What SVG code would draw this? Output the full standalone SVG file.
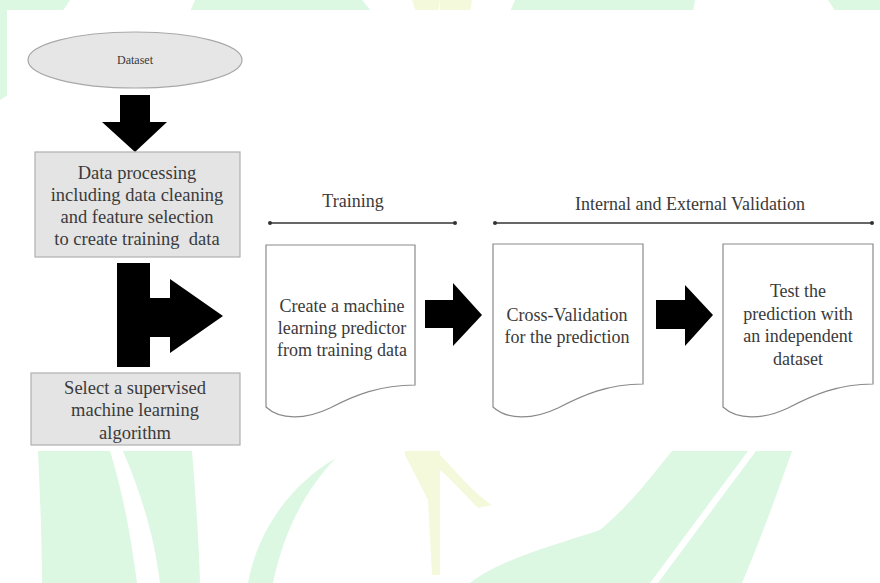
<svg xmlns="http://www.w3.org/2000/svg" width="880" height="583" viewBox="0 0 880 583">
<style>
.wm{fill:#dcf7e2}
.wy{fill:#f5f9dc}
.box{fill:#e4e4e4;stroke:#b0b0b0;stroke-width:1.2}
.doc{fill:#ffffff;stroke:#8a8a8a;stroke-width:1.2}
.t{font-family:"Liberation Serif","Times New Roman",serif;fill:#3a3a3a;text-anchor:middle}
.arrow{fill:#000}
.span{stroke:#333;stroke-width:1.3;fill:none}
.dot{fill:#333}
</style>
<rect width="880" height="583" fill="#ffffff"/>
<g id="watermark">
<polygon class="wm" points="0,0 70,0 62,12 0,12"/>
<polygon class="wm" points="0,0 8,0 8,95 0,100"/>
<polygon class="wm" points="195,0 362,0 372,12 190,12"/>
<polygon class="wy" points="412,0 440,0 438,12 416,12"/>
<polygon class="wy" points="440,0 472,0 470,12 440,12"/>
<polygon class="wm" points="515,0 695,0 693,12 510,12"/>
<polygon class="wm" points="828,0 880,0 880,12 836,12"/>
<path class="wm" d="M38,451 H110 C125,500 132,545 137,583 H42 C42,540 40,495 38,451 Z"/>
<path class="wm" d="M123,451 H192 C196,500 199,545 200,583 H160 C155,540 142,495 123,451 Z"/>
<path class="wm" d="M248,583 C258,530 290,485 336,458 C300,495 282,540 273,583 Z"/>
<path class="wy" d="M405,451 H440 V575 L432,575 L428,500 L405,455 Z"/>
<path class="wy" d="M440,455 C455,470 470,490 492,505 L478,508 C465,495 452,480 440,470 Z"/>
<path class="wm" d="M672,451 H792 C775,500 758,545 742,583 H470 C500,560 545,548 600,530 C630,505 650,478 672,451 Z"/>
<path fill="#ffffff" d="M748,451 H756 L658,583 H650 Z"/>
</g>
<rect x="7" y="10" width="873" height="441" fill="#ffffff"/>

<g id="connectors">
<path class="arrow" d="M120,95 H150 V122 H167 L135,152 L102,122 H120 Z"/>
<path class="arrow" d="M117,263 H150 V298 H170 V279 L223,316 L170,353 V337 H150 V367 H117 Z"/>
<path class="arrow" d="M425,300 H453 V283 L482,315 L453,346 V328 H425 Z"/>
<path class="arrow" d="M656,300 H685 V285 L713,315 L685,346 V329 H656 Z"/>
<line class="span" x1="270" y1="223" x2="455" y2="223"/>
<circle class="dot" cx="270" cy="223" r="2"/>
<circle class="dot" cx="455" cy="223" r="2"/>
<line class="span" x1="495" y1="223" x2="872" y2="223"/>
<circle class="dot" cx="495" cy="223" r="2"/>
<circle class="dot" cx="872" cy="223" r="2"/>
</g>

<g id="dataset">
<ellipse cx="135" cy="60" rx="107" ry="28" fill="#e6e6e6" stroke="#a8a8a8" stroke-width="1.2"/>
<text class="t" x="135" y="64" font-size="12">Dataset</text>
</g>

<g id="data-processing">
<rect class="box" x="35" y="152" width="205" height="105"/>
<text class="t" x="137" y="179" font-size="18.5">Data processing</text>
<text class="t" x="137" y="201" font-size="18.5">including data cleaning</text>
<text class="t" x="137" y="223" font-size="18.5">and feature selection</text>
<text class="t" x="137" y="245" font-size="18.5" xml:space="preserve">to create training  data</text>
</g>

<g id="select-algorithm">
<rect class="box" x="31" y="373" width="209" height="72"/>
<text class="t" x="135" y="394" font-size="18.5">Select a supervised</text>
<text class="t" x="135" y="416" font-size="18.5">machine learning</text>
<text class="t" x="135" y="439" font-size="18.5">algorithm</text>
</g>

<g id="training-label">
<text class="t" x="353" y="207" font-size="18">Training</text>
</g>

<g id="validation-label">
<text class="t" x="690" y="210" font-size="18">Internal and External Validation</text>
</g>

<g id="create-predictor">
<path class="doc" d="M266,245 H415 V385 C380,385 355,395 330,408 C305,420 280,420 266,407 Z"/>
<text class="t" x="342" y="312" font-size="18">Create a machine</text>
<text class="t" x="342" y="334" font-size="18">learning predictor</text>
<text class="t" x="342" y="356" font-size="18">from training data</text>
</g>

<g id="cross-validation">
<path class="doc" d="M493,244 H643 V384 C608,384 583,395 558,408 C533,420 507,420 493,407 Z"/>
<text class="t" x="567" y="321" font-size="18">Cross-Validation</text>
<text class="t" x="567" y="343" font-size="18">for the prediction</text>
</g>

<g id="test-prediction">
<path class="doc" d="M723,244 H873 V384 C838,384 813,395 788,408 C763,420 737,420 723,407 Z"/>
<text class="t" x="798" y="297" font-size="18">Test the</text>
<text class="t" x="798" y="320" font-size="18">prediction with</text>
<text class="t" x="798" y="342" font-size="18">an independent</text>
<text class="t" x="798" y="365" font-size="18">dataset</text>
</g>
</svg>
